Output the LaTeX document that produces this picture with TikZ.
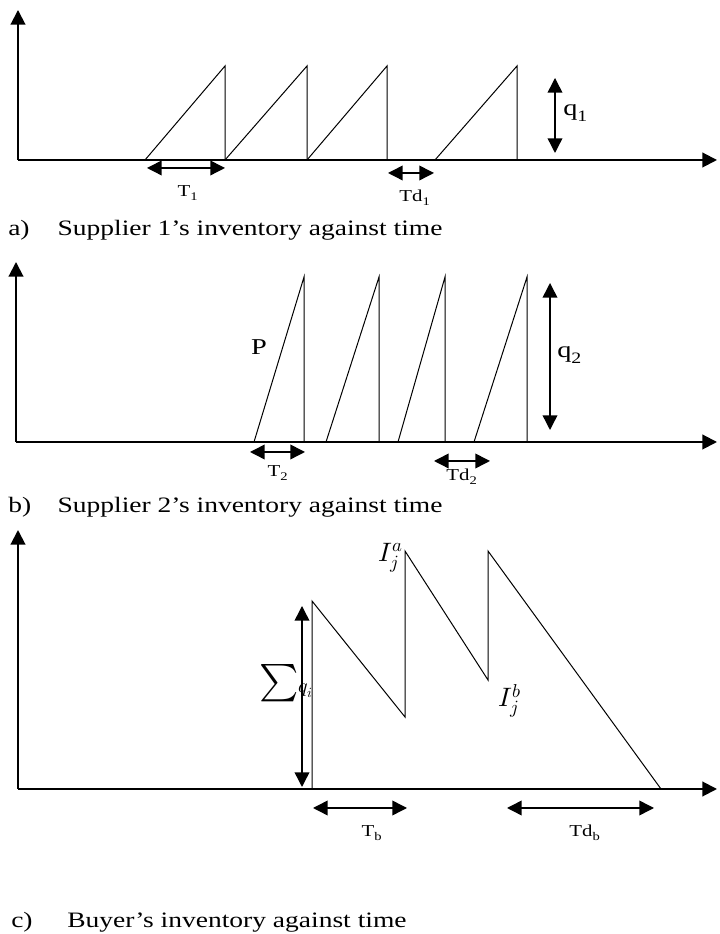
\documentclass[tikz,border=0pt]{standalone}
\usepackage{fontspec}
\usepackage{unicode-math}
\setmainfont{Liberation Serif}[FakeStretch=1.25]
\setmathfont{Latin Modern Math}
\usetikzlibrary{arrows.meta}
\tikzset{
  axisline/.style={line width=1.5pt,-{Triangle[length=11pt,width=11pt]}},
  tooth/.style={line width=0.75pt},
  span/.style={line width=1.1pt,{Triangle[length=11pt,width=11pt]}-{Triangle[length=11pt,width=11pt]}},
  bigtext/.style={font=\fontsize{17}{20}\selectfont,inner sep=0pt},
  smalltext/.style={font=\fontsize{12.5}{15}\selectfont,inner sep=0pt},
  mathtext/.style={font=\fontsize{20}{24}\selectfont,inner sep=0pt},
  captext/.style={font=\fontsize{16.5}{19}\selectfont,anchor=west,inner sep=0pt}
}
\begin{document}
\begin{tikzpicture}[x=0.75pt,y=0.75pt]
\useasboundingbox (0,0) rectangle (719,934);
% a) supplier 1
\begin{scope}[shift={(18,774)}]
\coordinate (Oa) at (0,0);
\draw[axisline] (Oa) -- (0,150);
\draw[axisline] (Oa) -- (699,0);
\foreach \s/\e in {127/207,207/289,289/369,417/499}
  \draw[tooth] (\s,0) -- (\e,94) -- (\e,0);
\draw[span] (537,82) -- (537,7);
\node[bigtext,anchor=west] (qone) at (545,47) {q\textsubscript{1}};
\draw[span] (129,-8) -- (207,-8);
\node[smalltext] (tone) at (170,-33) {T\textsubscript{1}};
\draw[span] (370,-13) -- (416,-13);
\node[smalltext] (tdone) at (397,-38) {Td\textsubscript{1}};
\node[captext] (capa) at (-10,-70) {\makebox[37pt][l]{a)}Supplier 1's inventory against time};
\end{scope}
% b) supplier 2
\begin{scope}[shift={(16,492)}]
\coordinate (Ob) at (0,0);
\draw[axisline] (Ob) -- (0,180);
\draw[axisline] (Ob) -- (701,0);
\foreach \s/\e in {238/288,310/363,382/429,458/511}
  \draw[tooth] (\s,0) -- (\e,165) -- (\e,0);
\draw[span] (534,159) -- (534,12);
\node[bigtext,anchor=west] (qtwo) at (541,87) {q\textsubscript{2}};
\node[bigtext] (prate) at (243,95) {P};
\draw[span] (234,-10) -- (289,-10);
\node[smalltext] (ttwo) at (262,-31) {T\textsubscript{2}};
\draw[span] (418,-19) -- (474,-19);
\node[smalltext] (tdtwo) at (446,-35) {Td\textsubscript{2}};
\node[captext] (capb) at (-8,-65) {\makebox[37pt][l]{b)}Supplier 2's inventory against time};
\end{scope}
% c) buyer
\begin{scope}[shift={(18,145)}]
\coordinate (Oc) at (0,0);
\draw[axisline] (Oc) -- (0,259);
\draw[axisline] (Oc) -- (699,0);
\draw[tooth] (294,0) -- (294,188) -- (387,72) -- (387,238) -- (470,109) -- (470,238) -- (643,0);
\draw[span] (284,183) -- (284,2);
\node[inner sep=0pt] (sumq) at (268,106) {\fontsize{28}{30}\selectfont$\sum$\fontsize{15}{18}\selectfont$q_i$};
\node[mathtext] (ija) at (373,231) {$I_j^a$};
\node[mathtext] (ijb) at (492,88) {$I_j^b$};
\draw[span] (295,-19) -- (389,-19);
\node[smalltext] (tb) at (354,-44) {T\textsubscript{b}};
\draw[span] (489,-19) -- (636,-19);
\node[smalltext] (tdb) at (567,-44) {Td\textsubscript{b}};
\node[captext] (capc) at (-7,-133) {\makebox[42pt][l]{c)}Buyer's inventory against time};
\end{scope}
\end{tikzpicture}
\end{document}
